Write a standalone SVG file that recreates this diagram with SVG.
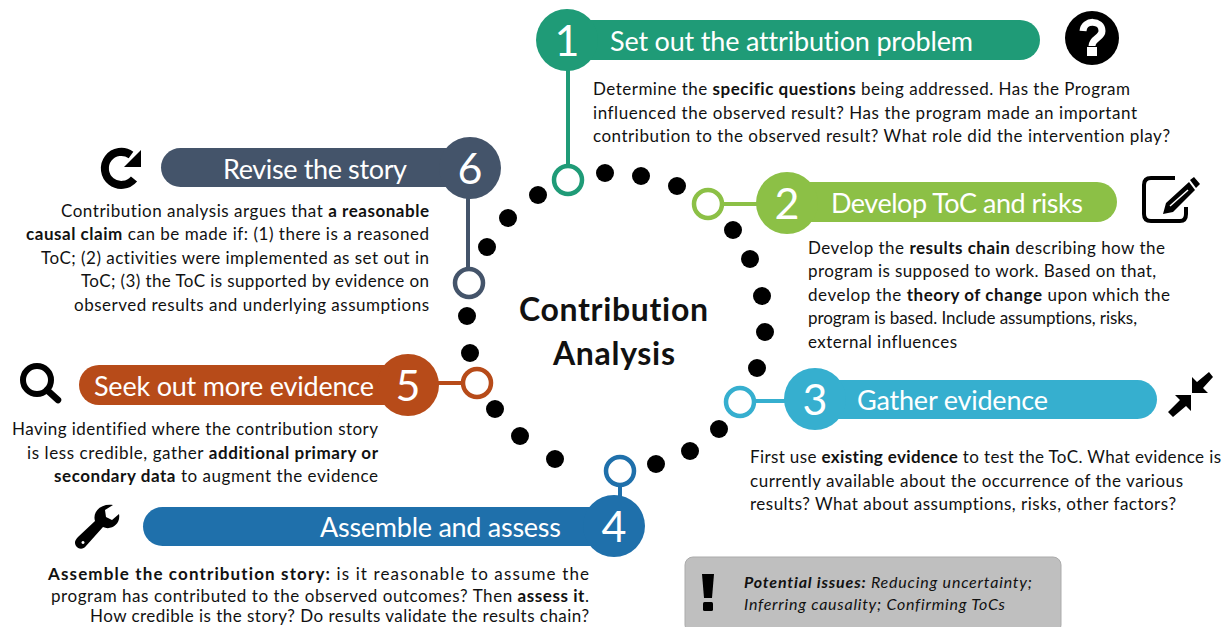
<svg xmlns="http://www.w3.org/2000/svg" width="1225" height="627" viewBox="0 0 1225 627">
<style>
text{font-family:"Lato","Liberation Sans",sans-serif;fill:#111;font-variant-ligatures:none;transform:translateY(.8px)}
.b{font-size:17px}
.r{text-anchor:end}
.s{font-weight:700}
.t{font-size:27px;fill:#fff}
.n{font-size:43px;fill:#fff;text-anchor:middle}
.c{font-size:32px;font-weight:700;text-anchor:middle}
.i{font-size:16px;font-style:italic}
.ring{fill:#fff;stroke-width:4.500}
.dot{fill:#000}
.line{fill:none;stroke-width:4}
</style>
<g id="connectors">
<path class="line" stroke="#1f9b77" d="M568 60V168"/>
<path class="line" stroke="#8cc046" d="M720 204H760"/>
<path class="line" stroke="#36afcf" d="M752 401H790"/>
<path class="line" stroke="#1f70ab" d="M620 484V500"/>
<path class="line" stroke="#b74b19" d="M437 383H465"/>
<path class="line" stroke="#44546a" d="M468 190V270"/>
</g>
<g id="dots" class="dot">
<circle cx="538" cy="195" r="9"/><circle cx="605" cy="173" r="9"/><circle cx="641" cy="176" r="9"/><circle cx="677" cy="186" r="9"/>
<circle cx="733" cy="230" r="9"/><circle cx="750" cy="259" r="9"/><circle cx="762" cy="296" r="9"/><circle cx="765" cy="332" r="9"/><circle cx="757" cy="368" r="9"/>
<circle cx="719" cy="429" r="9"/><circle cx="690" cy="451" r="9"/><circle cx="656" cy="464" r="9"/>
<circle cx="555" cy="459" r="9"/><circle cx="520" cy="436" r="9"/><circle cx="495" cy="409" r="9"/><circle cx="470" cy="353" r="9"/><circle cx="467" cy="316" r="9"/><circle cx="487" cy="247" r="9"/><circle cx="508" cy="218" r="9"/>
</g>
<g id="center"><text class="c" x="613.500" y="320" textLength="189">Contribution</text><text class="c" x="614" y="364" textLength="122">Analysis</text></g>
<g id="node1">
<rect x="568" y="20" width="472" height="40" rx="20" fill="#1f9b77"/><circle cx="567" cy="40" r="31" fill="#1f9b77"/>
<circle class="ring" cx="568" cy="180" r="14" stroke="#1f9b77"/>
<text class="n" x="567" y="55">1</text><text class="t" x="610" y="50" textLength="363">Set out the attribution problem</text>
<circle cx="1092" cy="38" r="27" fill="#000"/>
<path d="M1083 31C1084 19 1102 20 1102 31C1102 38 1092 38 1092 46" fill="none" stroke="#fff" stroke-width="7"/><rect x="1087" y="47" width="10" height="9" fill="#fff"/>
<text class="b" x="593" y="94" textLength="537">Determine the <tspan class="s">specific questions</tspan> being addressed. Has the Program</text>
<text class="b" x="593" y="118" textLength="544">influenced the observed result? Has the program made an important</text>
<text class="b" x="593" y="141" textLength="577">contribution to the observed result? What role did the intervention play?</text>
</g>
<g id="node2">
<rect x="790" y="182" width="327" height="40" rx="20" fill="#8cc046"/><circle cx="787" cy="203" r="31" fill="#8cc046"/>
<circle class="ring" cx="708" cy="204" r="14" stroke="#8cc046"/>
<text class="n" x="787" y="218">2</text><text class="t" x="831" y="212" textLength="252">Develop ToC and risks</text>
<path d="M1175 178H1151Q1144 178 1144 185V214Q1144 221 1151 221H1180Q1186 221 1186 214V207" fill="none" stroke="#000" stroke-width="4"/>
<path d="M1163 214L1166 203L1189 182L1195 190L1173 212ZM1190 180L1194 177L1200 184L1196 188Z" fill="#000"/>
<path d="M1170 206L1188 190" stroke="#fff" stroke-width="1.500"/>
<text class="b" x="808" y="253" textLength="357">Develop the <tspan class="s">results chain</tspan> describing how the</text>
<text class="b" x="808" y="276" textLength="348">program is supposed to work. Based on that,</text>
<text class="b" x="808" y="300" textLength="362">develop the <tspan class="s">theory of change</tspan> upon which the</text>
<text class="b" x="808" y="323" textLength="329">program is based. Include assumptions, risks,</text>
<text class="b" x="808" y="347" textLength="149">external influences</text>
</g>
<g id="node3">
<rect x="815" y="380" width="342" height="39" rx="19.500" fill="#36afcf"/><circle cx="815" cy="399" r="31" fill="#36afcf"/>
<circle class="ring" cx="740" cy="402" r="14" stroke="#36afcf"/>
<text class="n" x="815" y="414">3</text><text class="t" x="857" y="409" textLength="191">Gather evidence</text>
<path d="M1192 393V377L1197 382L1209 372L1213 377L1203 388L1208 393ZM1191 395V411L1186 406L1173 417L1168 412L1180 400L1175 395Z" fill="#000"/>
<text class="b" x="750" y="462" textLength="471">First use <tspan class="s">existing evidence</tspan> to test the ToC. What evidence is</text>
<text class="b" x="750" y="486" textLength="433">currently available about the occurrence of the various</text>
<text class="b" x="750" y="509" textLength="426">results? What about assumptions, risks, other factors?</text>
</g>
<g id="node4">
<rect x="143" y="507" width="471" height="39" rx="19.500" fill="#1f70ab"/><circle cx="614" cy="526" r="31" fill="#1f70ab"/>
<circle class="ring" cx="620" cy="471" r="14" stroke="#1f70ab"/>
<text class="n" x="614" y="541">4</text><text class="t" x="320" y="536" textLength="241">Assemble and assess</text>
<path fill-rule="evenodd" d="M113 505L105 510L106 517L112 520L119 514C121 524 111 531 103 527L86 546C83 550 78 549 76 546C74 543 75 540 78 537L95 521C92 511 102 503 113 505ZM83 541a1.500 1.500 0 1 0 .01 0Z" fill="#000"/>
<text class="b r" x="589" y="579" textLength="541"><tspan class="s">Assemble the contribution story:</tspan> is it reasonable to assume the</text>
<text class="b r" x="589" y="601.500" textLength="538">program has contributed to the observed outcomes? Then <tspan class="s">assess it</tspan>.</text>
<text class="b r" x="589" y="621.500" textLength="499">How credible is the story? Do results validate the results chain?</text>
</g>
<g id="node5">
<rect x="79" y="365" width="331" height="40" rx="20" fill="#b74b19"/><circle cx="408" cy="385" r="31" fill="#b74b19"/>
<circle class="ring" cx="477" cy="383" r="14" stroke="#b74b19"/>
<text class="n" x="408" y="400">5</text><text class="t" x="94" y="395" textLength="280">Seek out more evidence</text>
<circle cx="37" cy="380" r="14" fill="none" stroke="#000" stroke-width="6"/><path d="M47 390L58 400" stroke="#000" stroke-width="6.500" stroke-linecap="round"/>
<text class="b r" x="378" y="434" textLength="366">Having identified where the contribution story</text>
<text class="b r" x="378" y="458" textLength="351">is less credible, gather <tspan class="s">additional primary or</tspan></text>
<text class="b r" x="378" y="481" textLength="324"><tspan class="s">secondary data</tspan> to augment the evidence</text>
</g>
<g id="node6">
<rect x="161" y="148" width="309" height="39" rx="19.500" fill="#44546a"/><circle cx="470" cy="168" r="31" fill="#44546a"/>
<circle class="ring" cx="469" cy="283" r="14" stroke="#44546a"/>
<text class="n" x="470" y="183">6</text><text class="t" x="223" y="178" textLength="184">Revise the story</text>
<path d="M131 155A16.500 16.500 0 1 0 134 179" fill="none" stroke="#000" stroke-width="8"/><path d="M141 150V167H124Z" fill="#000"/>
<text class="b r" x="429" y="216" textLength="368">Contribution analysis argues that <tspan class="s">a reasonable</tspan></text>
<text class="b r" x="429" y="239" textLength="403"><tspan class="s">causal claim</tspan> can be made if: (1) there is a reasoned</text>
<text class="b r" x="429" y="263" textLength="388">ToC; (2) activities were implemented as set out in</text>
<text class="b r" x="429" y="286" textLength="348">ToC; (3) the ToC is supported by evidence on</text>
<text class="b r" x="429" y="310" textLength="355">observed results and underlying assumptions</text>
</g>
<g id="issues">
<rect x="685" y="557" width="376" height="76" rx="8" fill="#bfbfbf" stroke="#ababab"/>
<path d="M702 574H714L712 598H704Z" fill="#000"/><rect x="703" y="602" width="10" height="9" rx="1.500" fill="#000"/>
<text class="i" x="744" y="587" textLength="288"><tspan class="s">Potential issues:</tspan> Reducing uncertainty;</text>
<text class="i" x="744" y="609" textLength="261">Inferring causality; Confirming ToCs</text>
</g>
</svg>
